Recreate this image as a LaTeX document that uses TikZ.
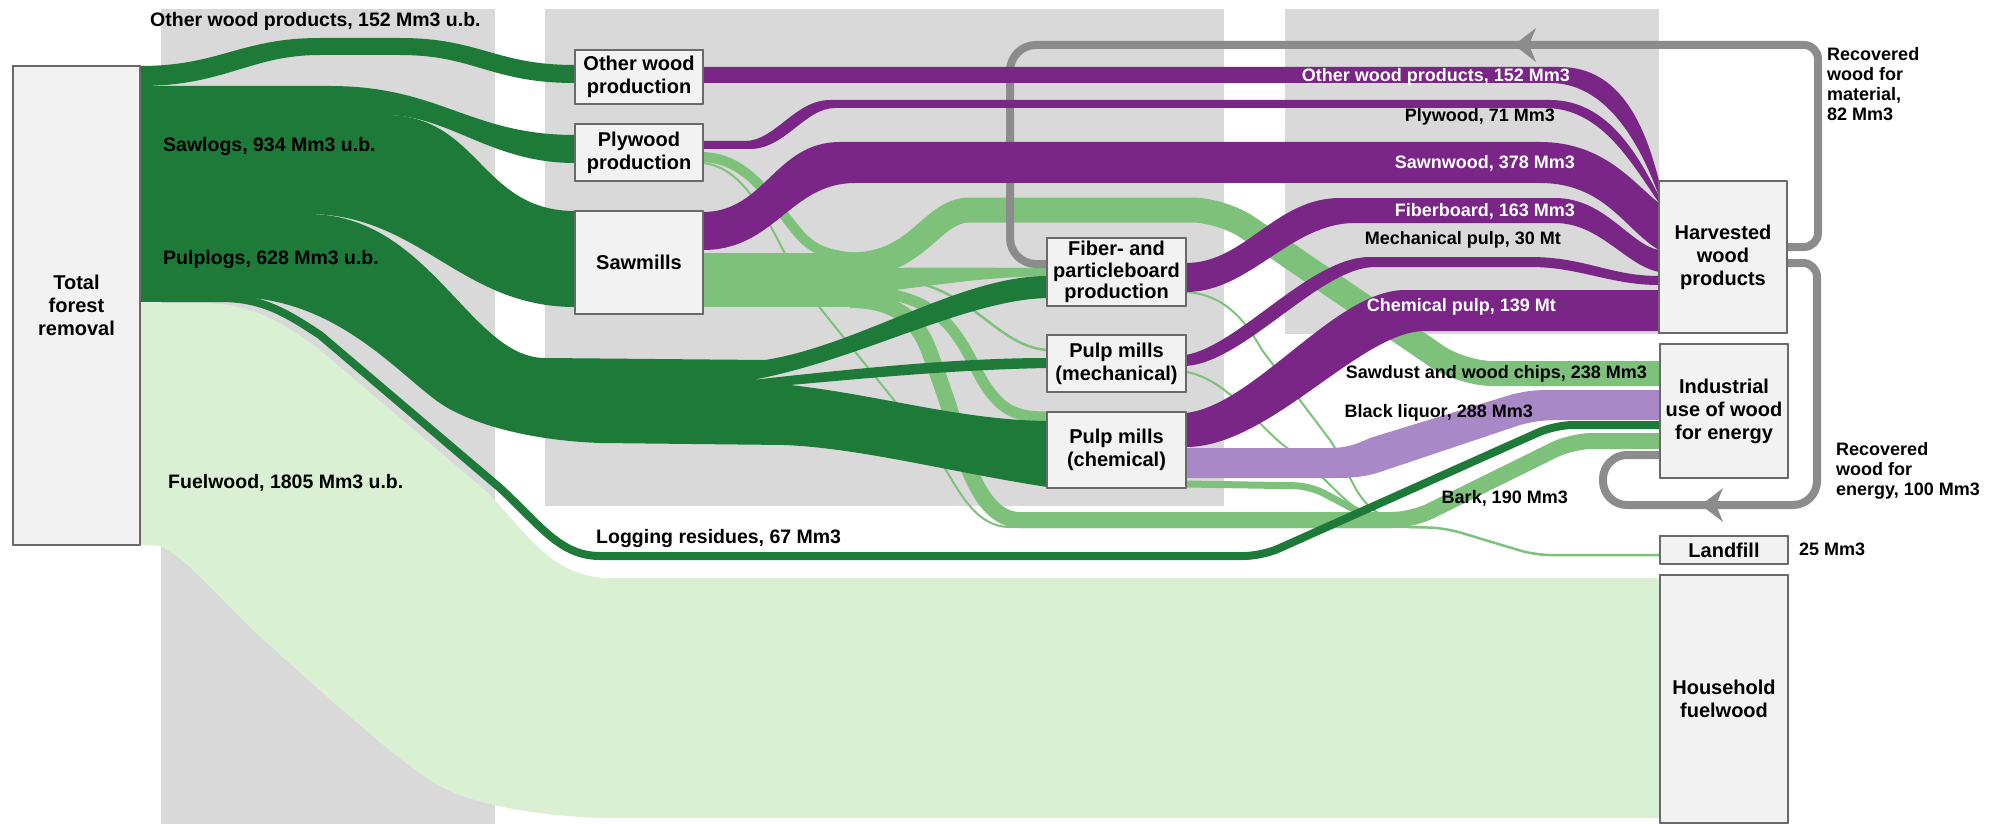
\documentclass[tikz,border=0pt]{standalone}
\usepackage{fontspec}
\setmainfont{Liberation Sans}
\usetikzlibrary{calc}
\definecolor{dg}{RGB}{30,122,56}
\definecolor{lg}{RGB}{125,193,122}
\definecolor{vlg}{RGB}{217,240,211}
\definecolor{pu}{RGB}{121,38,135}
\definecolor{lpu}{RGB}{168,136,198}
\definecolor{agray}{RGB}{140,140,140}
\definecolor{pgray}{RGB}{217,217,217}
\definecolor{bfill}{RGB}{242,242,242}
\definecolor{bdraw}{RGB}{105,105,105}
\tikzset{
  box/.style={draw=bdraw, fill=bfill, line width=1.3pt, inner sep=0pt, align=center,
    font=\bfseries\fontsize{20}{23}\selectfont},
  lbl/.style={inner sep=0pt, font=\bfseries\fontsize{19.5}{22}\selectfont},
  plbl/.style={inner sep=0pt, font=\bfseries\fontsize{18}{20}\selectfont},
  rlbl/.style={inner sep=0pt, align=left, font=\bfseries\fontsize{18}{20}\selectfont},
  garrow/.style={draw=agray, line width=8pt},
  ahead/.style={fill=agray},
}
\begin{document}
\begin{tikzpicture}[x=1pt, y=-1pt, line join=round]
\useasboundingbox (0,0) rectangle (2006,824);
% background panels
\fill[pgray] (161,9) rectangle (495,824);
\fill[pgray] (545,9) rectangle (1224,506);
\fill[pgray] (1285,9) rectangle (1659,334);

% nodes (placed first so that anchors exist; redrawn on top later)
\path
  (76.5,305.5)  node[box, minimum width=127pt, minimum height=479pt] (total) {}
  (639,77)      node[box, minimum width=128pt, minimum height=54pt] (otherprod) {}
  (639,152.5)   node[box, minimum width=128pt, minimum height=57pt] (plyprod) {}
  (639,262.5)   node[box, minimum width=128pt, minimum height=103pt] (sawmills) {}
  (1116.5,272)  node[box, minimum width=139pt, minimum height=68pt] (fiber) {}
  (1116.5,363.5) node[box, minimum width=139pt, minimum height=57pt] (pulpmech) {}
  (1116.5,450)  node[box, minimum width=139pt, minimum height=76pt] (pulpchem) {}
  (1723,257)    node[box, minimum width=128pt, minimum height=152pt] (hwp) {}
  (1724,411)    node[box, minimum width=128pt, minimum height=134pt] (ind) {}
  (1724,550)    node[box, minimum width=128pt, minimum height=28pt] (landfill) {}
  (1724,699)    node[box, minimum width=128pt, minimum height=248pt] (household) {};

% fuelwood
\fill[vlg] (140,303) -- (200,303) .. controls (250,303) and (280,320) .. (320,350)
  -- (480,486) .. controls (520,520) and (545,578) .. (610,578) -- (1660,578) -- (1660,818)
  -- (600,818) .. controls (520,815) and (460,800) .. (433,782)
  .. controls (400,762) and (330,700) .. (267,643)
  .. controls (220,600) and (190,560) .. (160,546) -- (140,545) -- cycle;

% light green flows (by-products)
\fill[lg] (703,253) rectangle (880,307);
\draw[lg, line width=10pt] (703,157) .. controls (750,159) and (770,200) .. (800,235)
  .. controls (815,252) and (835,258) .. (870,258);
\draw[lg, line width=2pt] (703,163) .. controls (745,168) and (765,215) .. (800,283)
  -- (930,445) .. controls (955,480) and (970,527) .. (1010,527) -- (1420,527);
\draw[lg, line width=25pt, rounded corners=30pt] (850,265) .. controls (920,265) and (930,210) .. (1000,210)
  -- (1222,210) -- (1462,373.5) -- (ind.west |- 0,373.5);
\fill[lg] (880,268) .. controls (960,267) and (1000,268) .. (1047,268) -- (1047,276)
  .. controls (990,277) and (950,283) .. (880,292) -- cycle;
\draw[lg, line width=11pt] (860,292) .. controls (945,292) and (960,340) .. (982,380)
  .. controls (1000,410) and (1015,417) .. (pulpchem.west |- 0,417);
\draw[lg, line width=16pt, rounded corners=20pt] (850,300) .. controls (915,300) and (925,340) .. (941,383)
  .. controls (960,440) and (975,520) .. (1040,520) -- (1412,520) -- (1572,441) -- (ind.west |- 0,441);
\draw[lg, line width=7pt, rounded corners=15pt] (pulpchem.east |- 0,484) -- (1310,486) -- (1365,515);
\draw[lg, line width=2.5pt, rounded corners=15pt] (1410,527) -- (1445,528) -- (1535,555) -- (landfill.west |- 0,555);
\draw[lg, line width=2pt] (fiber.east |- 0,292) .. controls (1225,295) and (1245,320) .. (1262,350)
  -- (1330,440) .. controls (1350,470) and (1355,505) .. (1385,516);
\draw[lg, line width=2pt] (pulpmech.east |- 0,372) .. controls (1230,380) and (1260,430) .. (1290,450)
  .. controls (1320,470) and (1340,500) .. (1365,514);
\draw[lg, line width=2.5pt] (900,279) .. controls (975,290) and (995,345) .. (pulpmech.west |- 0,350);

% dark green raw-wood flows
\fill[dg] (140,66) .. controls (220,66) and (240,38) .. (320,38) -- (400,38)
  .. controls (480,38) and (495,65) .. (575,65) -- (575,83)
  .. controls (490,83) and (475,55) .. (400,55) -- (320,55)
  .. controls (250,55) and (225,86) .. (140,86) -- cycle;
\fill[dg] (140,86) -- (330,86) .. controls (440,86) and (470,135) .. (575,135) -- (575,163)
  .. controls (490,163) and (450,115) .. (385,115) -- (140,115) -- cycle;
\fill[dg] (140,115) -- (385,115) .. controls (480,115) and (480,211) .. (575,211) -- (575,307)
  .. controls (460,307) and (420,214) .. (308,214) -- (140,214) -- cycle;
\fill[dg] (140,214) -- (308,214) .. controls (430,214) and (470,358) .. (545,358) -- (765,360)
  .. controls (860,345) and (960,276) .. (1047,276) -- (1047,298)
  .. controls (965,300) and (860,360) .. (752,380)
  .. controls (860,368) and (960,358) .. (1047,358) -- (1047,368)
  .. controls (950,370) and (870,378) .. (790,385)
  .. controls (880,395) and (960,420) .. (1047,421) -- (1047,487)
  .. controls (950,472) and (860,448) .. (784,445) -- (600,443)
  .. controls (520,440) and (460,420) .. (433,398)
  .. controls (390,365) and (330,297) .. (232,297) -- (140,297) -- cycle;

% recovered wood (grey loops)
\draw[garrow] ($(hwp.east)+(0,-10)$) [rounded corners=14pt] -- (1818,247) -- (1818,45)
  [rounded corners=26pt] -- (1010,45) -- (1010,264) -- ($(fiber.west)+(0,-8)$);
\fill[ahead] (1514,45) -- (1536,28) -- (1529,45) -- (1536,62) -- cycle;
\draw[garrow] ($(hwp.east)+(0,6)$) [rounded corners=14pt] -- (1817,263)
  [rounded corners=24pt] -- (1817,505) -- (1603,505) -- (1603,455) -- ($(ind.west)+(0,44)$);
\fill[ahead] (1701,505) -- (1723,488) -- (1716,505) -- (1723,522) -- cycle;

% purple product flows
\fill[pu] (703,67) -- (1560,67) .. controls (1620,67) and (1645,125) .. (1659,181) -- (1659,196)
  .. controls (1635,130) and (1600,83) .. (1550,83) -- (703,83) -- cycle;
\fill[pu] (703,141) -- (745,141) .. controls (775,141) and (795,100) .. (830,100) -- (1550,100)
  .. controls (1610,100) and (1640,160) .. (1659,196) -- (1659,203)
  .. controls (1630,160) and (1600,108) .. (1545,108) -- (835,108)
  .. controls (805,108) and (785,149) .. (750,149) -- (703,149) -- cycle;
\fill[pu] (703,212) .. controls (765,212) and (775,142) .. (840,142) -- (1540,142)
  .. controls (1605,142) and (1635,185) .. (1659,203) -- (1659,250)
  .. controls (1625,230) and (1605,183) .. (1540,183) -- (855,183)
  .. controls (790,183) and (775,250) .. (703,250) -- cycle;
\fill[pu] (1186,263) .. controls (1245,263) and (1275,198) .. (1340,198) -- (1555,198)
  .. controls (1605,198) and (1630,245) .. (1659,250) -- (1659,272)
  .. controls (1625,265) and (1600,223) .. (1555,223) -- (1355,223)
  .. controls (1290,223) and (1250,292) .. (1186,292) -- cycle;
\fill[pu] (1186,355) .. controls (1240,345) and (1310,257) .. (1370,257) -- (1530,257)
  .. controls (1585,257) and (1610,276) .. (1659,276) -- (1659,285)
  .. controls (1610,285) and (1580,267) .. (1530,267) -- (1375,267)
  .. controls (1320,267) and (1245,362) .. (1186,366) -- cycle;
\fill[pu] (1186,413) .. controls (1255,405) and (1335,290) .. (1405,290) -- (1659,290)
  -- (1659,331) -- (1425,331) .. controls (1360,331) and (1270,447) .. (1186,447) -- cycle;
% black liquor
\fill[lpu] (1186,448) -- (1330,448) .. controls (1345,448) and (1355,445) .. (1370,438)
  -- (1510,395) .. controls (1525,391) and (1535,390) .. (1550,390) -- (1660,390) -- (1660,420)
  -- (1560,420) .. controls (1545,420) and (1535,421) .. (1520,425) -- (1380,472)
  .. controls (1365,477) and (1350,478) .. (1337,478) -- (1186,478) -- cycle;

% logging residues
\draw[dg, line width=8pt] ($(total.east)+(0,-7.5)$) -- (220,298) .. controls (262,298) and (285,312) .. (320,335)
  -- (500,488) .. controls (540,525) and (560,556) .. (600,556)
  [rounded corners=18pt] -- (1262,556) -- (1555,425) -- (ind.west |- 0,425);

% boxes on top
\path
  (76.5,305.5)  node[box, minimum width=127pt, minimum height=479pt] {Total\\forest\\removal}
  (639,77)      node[box, minimum width=128pt, minimum height=54pt] {Other wood\\production}
  (639,152.5)   node[box, minimum width=128pt, minimum height=57pt] {Plywood\\production}
  (639,262.5)   node[box, minimum width=128pt, minimum height=103pt] {Sawmills}
  (1116.5,272)  node[box, minimum width=139pt, minimum height=68pt, font=\bfseries\fontsize{20}{21.5}\selectfont] {Fiber- and\\particleboard\\production}
  (1116.5,363.5) node[box, minimum width=139pt, minimum height=57pt] {Pulp mills\\(mechanical)}
  (1116.5,450)  node[box, minimum width=139pt, minimum height=76pt] {Pulp mills\\(chemical)}
  (1723,257)    node[box, minimum width=128pt, minimum height=152pt] {Harvested\\wood\\products}
  (1724,411)    node[box, minimum width=128pt, minimum height=134pt] {Industrial\\use of wood\\for energy}
  (1724,550)    node[box, minimum width=128pt, minimum height=28pt] {Landfill}
  (1724,699)    node[box, minimum width=128pt, minimum height=248pt] {Household\\fuelwood};

% labels
\node[lbl, anchor=west] (t1) at (150,21) {Other wood products, 152 Mm3 u.b.};
\node[lbl, anchor=west] (t2) at (163,147) {Sawlogs, 934 Mm3 u.b.};
\node[lbl, anchor=west] (t3) at (163,260) {Pulplogs, 628 Mm3 u.b.};
\node[lbl, anchor=west] (t4) at (168,483) {Fuelwood, 1805 Mm3 u.b.};
\node[lbl, anchor=west] (t5) at (596,538) {Logging residues, 67 Mm3};
\node[plbl, anchor=east, text=white] (t6) at (1570,77) {Other wood products, 152 Mm3};
\node[plbl, anchor=east] (t7) at (1555,117) {Plywood, 71 Mm3};
\node[plbl, anchor=east, text=white] (t8) at (1575,163) {Sawnwood, 378 Mm3};
\node[plbl, anchor=east, text=white] (t9) at (1575,211) {Fiberboard, 163 Mm3};
\node[plbl, anchor=east] (t10) at (1561,240) {Mechanical pulp, 30 Mt};
\node[plbl, anchor=east, text=white] (t11) at (1556,307) {Chemical pulp, 139 Mt};
\node[plbl, anchor=east] (t12) at (1647,374) {Sawdust and wood chips, 238 Mm3};
\node[plbl, anchor=east] (t13) at (1533,413) {Black liquor, 288 Mm3};
\node[plbl, anchor=east] (t14) at (1568,498) {Bark, 190 Mm3};
\node[rlbl, anchor=north west] (t15) at (1827,47) {Recovered\\wood for\\material,\\82 Mm3};
\node[rlbl, anchor=north west] (t16) at (1836,442) {Recovered\\wood for\\energy, 100 Mm3};
\node[plbl, anchor=west] (t17) at (1799,549) {25 Mm3};
\end{tikzpicture}
\end{document}
